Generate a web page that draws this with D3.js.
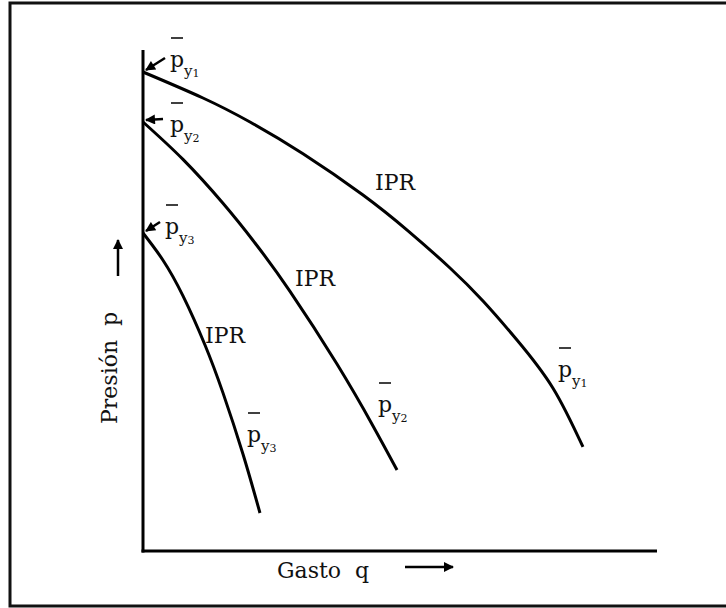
<!DOCTYPE html>
<html>
<head>
<meta charset="utf-8">
<script src="https://cdn.jsdelivr.net/npm/d3@7"></script>
<style>
  body { margin: 0; background: #fff; }
  svg text { font-family: "DejaVu Serif", serif; fill: #111; }
</style>
</head>
<body>
<script>
// curvas IPR, gasto q (0-100) y presion p (0-100)
var ipr1Q = [0, 11.67, 20.82, 31.13, 42.8, 51.56, 59.73, 66.15, 72.76, 79.77, 85.6];
var ipr1P = [95.61, 90.42, 85.63, 79.3, 71.06, 63.91, 56.49, 49.9, 42.12, 32.5, 20.76];
var ipr2Q = [0, 7.78, 15.56, 21.79, 28.6, 37.74, 44.75, 49.42];
var ipr2P = [85.63, 78.16, 69.4, 61.48, 51.84, 37.31, 24.97, 16.17];
var ipr3Q = [0, 3.89, 7.78, 12.06, 15.56, 19.46, 22.76];
var ipr3P = [63.47, 58.04, 50.92, 41.12, 31.56, 19.32, 7.58];

var subIdx = ["1", "2", "3"];
var iprLabel = "IPR";
var xLabel = "Gasto  q";
var yLabel = "Presión  p";

var W = 726, H = 608;
var svgC = d3.select("body").append("svg").attr("width", W).attr("height", H);

var x = d3.scaleLinear().domain([0, 100]).range([143, 657]);
var y = d3.scaleLinear().domain([0, 100]).range([551, 50]);

// marco exterior
svgC.append("path")
  .attr("d", "M 730 3 L 10 3 L 10 606 L 730 606")
  .attr("fill", "none").attr("stroke", "#111").attr("stroke-width", 3);

// ejes
svgC.append("line").attr("x1", x(0)).attr("y1", y(100)).attr("x2", x(0)).attr("y2", y(0) + 1.5)
  .attr("stroke", "#000").attr("stroke-width", 3);
svgC.append("line").attr("x1", x(0) - 1.5).attr("y1", y(0)).attr("x2", x(100)).attr("y2", y(0))
  .attr("stroke", "#000").attr("stroke-width", 3);

var curves = [
  { q: ipr1Q, p: ipr1P },
  { q: ipr2Q, p: ipr2P },
  { q: ipr3Q, p: ipr3P }
];

var line = d3.line().x(function(d) { return x(d[0]); }).y(function(d) { return y(d[1]); })
  .curve(d3.curveNatural);

curves.forEach(function(c) {
  svgC.append("path")
    .attr("d", line(d3.zip(c.q, c.p)))
    .attr("fill", "none").attr("stroke", "#000").attr("stroke-width", 3);
});

// flechas
var defs = svgC.append("defs");
defs.append("marker").attr("id", "head").attr("viewBox", "0 0 10 10")
  .attr("refX", 9).attr("refY", 5).attr("markerWidth", 5).attr("markerHeight", 4)
  .attr("markerUnits", "strokeWidth").attr("orient", "auto")
  .append("path").attr("d", "M0,0 L10,5 L0,10 z").attr("fill", "#000");

function arrow(x1, y1, x2, y2, w) {
  svgC.append("line").attr("x1", x1).attr("y1", y1).attr("x2", x2).attr("y2", y2)
    .attr("stroke", "#000").attr("stroke-width", w).attr("marker-end", "url(#head)");
}

// etiqueta p con barra y subindice
function pLabel(px, py, k) {
  var t = svgC.append("text").attr("x", px).attr("y", py).style("font-size", "22px");
  t.append("tspan").text("p");
  t.append("tspan").attr("dy", 9).style("font-size", "15px").text("y");
  t.append("tspan").attr("dy", 1).style("font-size", "11px").text(subIdx[k]);
  svgC.append("line").attr("x1", px + 1).attr("x2", px + 13)
    .attr("y1", py - 29).attr("y2", py - 29)
    .attr("stroke", "#000").attr("stroke-width", 1.5);
}

// etiquetas junto al eje (inicio de cada curva)
var startLab = [[170, 67], [170, 132], [165, 234]];
var arrowTail = [[165, 58], [163, 119], [160, 222]];
curves.forEach(function(c, k) {
  var sx = x(c.q[0]), sy = y(c.p[0]);
  arrow(arrowTail[k][0], arrowTail[k][1], sx + 3, sy - 2, 2.5);
  pLabel(startLab[k][0], startLab[k][1], k);
});

// etiquetas al final de cada curva
var endLab = [[558, 377], [378, 412], [247, 442]];
endLab.forEach(function(e, k) { pLabel(e[0], e[1], k); });

// etiquetas IPR
var iprPos = [[375, 190], [295, 286], [205, 343]];
iprPos.forEach(function(e) {
  svgC.append("text").attr("x", e[0]).attr("y", e[1]).style("font-size", "22px").text(iprLabel);
});

// titulos de ejes
svgC.append("text").attr("x", 277).attr("y", 578).style("font-size", "22px")
  .style("white-space", "pre").text(xLabel);
arrow(405, 567, 453, 567, 2.5);

svgC.append("text").attr("transform", "translate(117,424) rotate(-90)")
  .style("font-size", "22px").style("white-space", "pre").text(yLabel);
arrow(118, 276, 118, 240, 2.5);
</script>
</body>
</html>
